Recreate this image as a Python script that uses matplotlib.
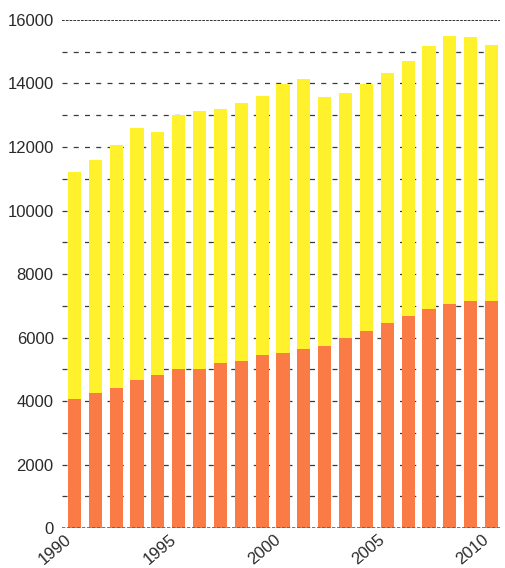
import numpy as np
import matplotlib
matplotlib.use('Agg')
import matplotlib.pyplot as plt

plt.rcParams['font.family'] = ['Liberation Sans', 'DejaVu Sans']

years = list(range(1990, 2011))
# lower (orange) part and total height of each stacked bar
lower = [4070, 4260, 4420, 4650, 4810, 5010, 5000, 5200, 5260, 5450, 5500,
         5650, 5740, 5980, 6200, 6460, 6690, 6890, 7050, 7160, 7160]
total = [11200, 11600, 12050, 12600, 12470, 13020, 13130, 13210, 13380, 13620, 13980,
         14140, 13590, 13710, 13970, 14330, 14710, 15190, 15510, 15460, 15200]
upper = [t - l for t, l in zip(total, lower)]

year_ticks = [1990, 1995, 2000, 2005, 2010]
y_ticks = [0, 2000, 4000, 6000, 8000, 10000, 12000, 14000, 16000]

fig = plt.figure(figsize=(5.06, 5.68), dpi=100)
ax = fig.add_axes([0.1225, 0.0704, 0.8655, 0.8944])

# dashed grid every 1000, drawn behind bars
for v in range(1000, 16000, 1000):
    ax.axhline(v, color='#3a3a3a', lw=0.9, ls=(0, (4, 5)), zorder=0)
ax.axhline(16000, color='#222222', lw=1.3, ls=(0, (1.5, 0.6)), zorder=0)
ax.axhline(0, color='#556070', lw=1.2, ls=(0, (2, 1)), zorder=3)

ax.bar(years, lower, width=0.63, color='#FA7B45', zorder=2)
ax.bar(years, upper, bottom=lower, width=0.63, color='#FFF22C', zorder=2)

ax.set_xlim(1989.4, 2010.4)
ax.set_ylim(0, 16000)
ax.set_yticks(y_ticks)
ax.set_yticklabels([str(v) for v in y_ticks], fontsize=12, color='#2a2a2a')
ax.set_xticks(year_ticks)
ax.set_xticklabels([str(y) for y in year_ticks], fontsize=12, rotation=40,
                   ha='right', va='top', color='#2a2a2a')
ax.tick_params(axis='both', length=0)
ax.tick_params(axis='y', pad=6)
ax.tick_params(axis='x', pad=3)
for s in ax.spines.values():
    s.set_visible(False)

fig.savefig('out.png', dpi=100)
